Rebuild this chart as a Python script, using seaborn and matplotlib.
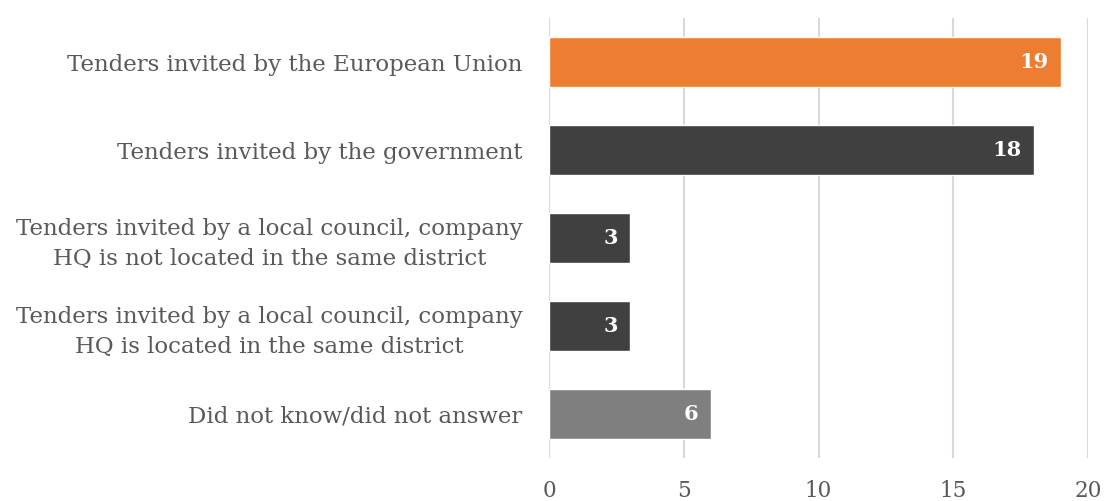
import matplotlib
matplotlib.use("Agg")
import matplotlib.pyplot as plt
import seaborn as sns
import pandas as pd

categories = [
    "Tenders invited by the European Union",
    "Tenders invited by the government",
    "Tenders invited by a local council, company\nHQ is not located in the same district",
    "Tenders invited by a local council, company\nHQ is located in the same district",
    "Did not know/did not answer",
]
values = [19, 18, 3, 3, 6]
colors = ["#ED7D31", "#404040", "#404040", "#404040", "#7F7F7F"]
x_ticks = [0, 5, 10, 15, 20]

sns.set_theme(style="white")
plt.rcParams["font.family"] = ["DejaVu Serif"]

df = pd.DataFrame({"cat": categories, "val": values})

fig = plt.figure(figsize=(11.05, 5.01), dpi=100)
ax = fig.add_axes([549 / 1105, 1 - 458 / 501, (1088 - 549) / 1105, (458 - 18) / 501])

sns.barplot(data=df, y="cat", x="val", hue="cat", palette=colors, legend=False,
            width=0.57, ax=ax, saturation=1, orient="h")

ax.set_xlim(0, 20)
ax.set_ylim(4.5, -0.5)
ax.set_xticks(x_ticks)
ax.set_xticklabels([str(t) for t in x_ticks])
ax.xaxis.grid(True, color="#D9D9D9", linewidth=1.5)
ax.yaxis.grid(False)
ax.set_axisbelow(True)
for s in ax.spines.values():
    s.set_visible(False)
ax.set_xlabel("")
ax.set_ylabel("")
ax.tick_params(axis="x", length=0, pad=16, labelsize=15.5, labelcolor="#595959")
ax.tick_params(axis="y", length=0, pad=19, labelsize=16.5, labelcolor="#595959")
for lbl in ax.get_yticklabels():
    lbl.set_multialignment("center")
    lbl.set_linespacing(1.45)

for i, v in enumerate(values):
    ax.text(v - 0.45, i, str(v), ha="right", va="center", color="white",
            fontsize=15, fontweight="bold")

fig.savefig("out.png", dpi=100)
